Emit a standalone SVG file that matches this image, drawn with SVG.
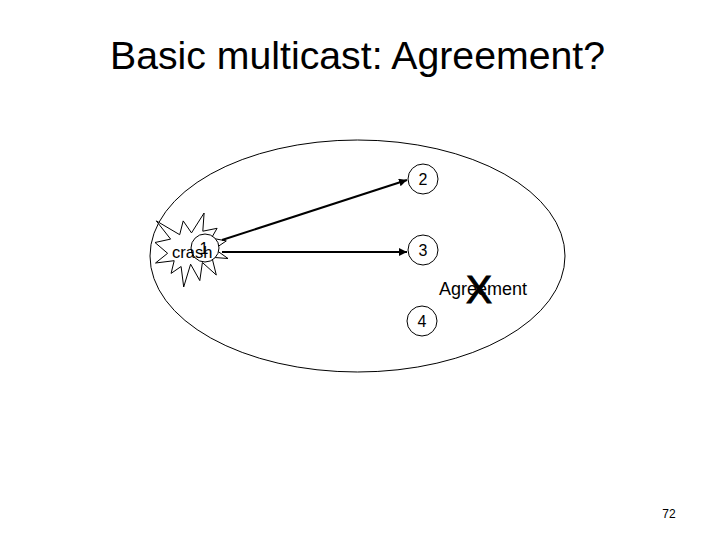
<svg xmlns="http://www.w3.org/2000/svg" width="720" height="540" viewBox="0 0 720 540">
<style>
.t{font-family:"Liberation Sans",Arial,sans-serif;fill:#000}
.node{fill:#fff;stroke:#000;stroke-width:1}
.lbl{font-size:16px;text-anchor:middle}
.arr{stroke:#000;stroke-width:2;fill:none;marker-end:url(#ah)}
</style>
<defs>
<marker id="ah" viewBox="0 0 10 10" refX="10" refY="5" markerWidth="4" markerHeight="4" orient="auto" markerUnits="strokeWidth">
<path d="M0,0 L10,5 L0,10 Z" fill="#000"/>
</marker>
</defs>
<rect width="720" height="540" fill="#fff"/>
<text id="title" class="t" x="110" y="69" font-size="38" textLength="495" lengthAdjust="spacingAndGlyphs">Basic multicast: Agreement?</text>
<g id="group">
<ellipse cx="357.5" cy="256" rx="207.5" ry="116" fill="none" stroke="#000" stroke-width="1"/>
</g>
<g id="node1">
<polygon points="191.5,232.9 204.1,213 202.8,231.2 217.1,228.3 211.4,238.1 226.3,240.9 214.5,248.9 228,258.5 211.9,257.3 216.3,275 202.4,262.5 199.8,280.6 190.6,264.2 183.7,287 181.1,266.5 171.1,273.4 174.2,260.7 155.5,263 167.6,253.3 155,242.5 170.6,239.1 156.3,220.9 179.7,234.7 183.2,220.9" fill="#fff" stroke="#000" stroke-width="1"/>
<circle class="node" cx="205" cy="248" r="14"/>
<text class="t lbl" x="204" y="254">1</text>
<text class="t" x="172" y="258" font-size="16.5">crash</text>
</g>
<g id="node2">
<circle class="node" cx="423" cy="179" r="15"/>
<text class="t lbl" x="423" y="185">2</text>
</g>
<g id="node3">
<circle class="node" cx="423" cy="250" r="15"/>
<text class="t lbl" x="423" y="256">3</text>
</g>
<g id="node4">
<circle class="node" cx="422" cy="321" r="15"/>
<text class="t lbl" x="422" y="327">4</text>
</g>
<g id="connectors">
<line class="arr" x1="222" y1="240" x2="407" y2="180"/>
<line class="arr" x1="222" y1="252" x2="407" y2="252"/>
</g>
<g id="agreement">
<text class="t" x="439" y="295" font-size="18">Agreement</text>
<text class="t" x="479" y="303" font-size="39" text-anchor="middle" stroke="#000" stroke-width="1">X</text>
</g>
<text id="page" class="t" x="669" y="518" font-size="12" text-anchor="middle">72</text>
</svg>
